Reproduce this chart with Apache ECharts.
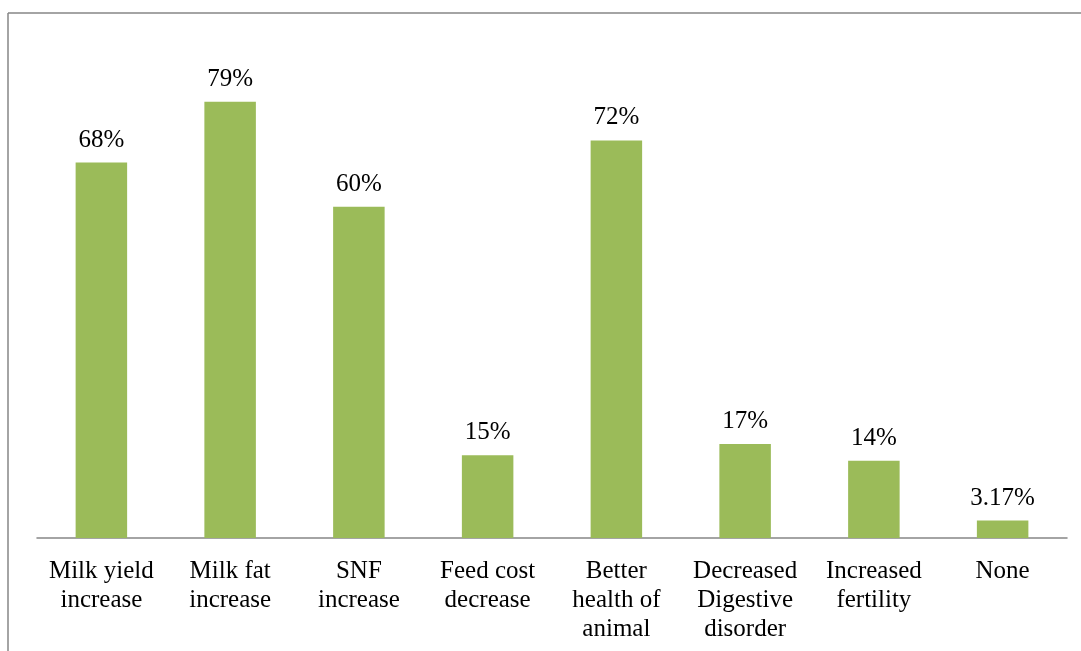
<!DOCTYPE html>
<html>
<head>
<meta charset="utf-8">
<script src="https://cdn.jsdelivr.net/npm/echarts@6/dist/echarts.min.js"></script>
<style>
  html, body { margin: 0; padding: 0; background: #fff; }
  #chart { width: 1081px; height: 651px; }
</style>
</head>
<body>
<div id="chart"></div>
<script>
// Reported benefits of feeding, share of respondents (%)
const categories = [
  'Milk yield\nincrease',
  'Milk fat\nincrease',
  'SNF\nincrease',
  'Feed cost\ndecrease',
  'Better\nhealth of\nanimal',
  'Decreased\nDigestive\ndisorder',
  'Increased\nfertility',
  'None'
];
const values = [68, 79, 60, 15, 72, 17, 14, 3.17];
const valueLabels = ['68%', '79%', '60%', '15%', '72%', '17%', '14%', '3.17%'];

const chart = echarts.init(document.getElementById('chart'));
const serif = '"Liberation Serif", "Times New Roman", serif';

chart.setOption({
  animation: false,
  backgroundColor: '#ffffff',
  grid: { left: 37, right: 14, top: 41, bottom: 113 },
  xAxis: {
    type: 'category',
    data: categories,
    axisLine: { lineStyle: { color: '#868686', width: 1.5 } },
    axisTick: { show: false },
    axisLabel: {
      interval: 0,
      margin: 19,
      color: '#000',
      fontFamily: serif,
      fontSize: 25,
      lineHeight: 29
    }
  },
  yAxis: {
    type: 'value',
    min: 0,
    max: 90,
    show: false,
    splitLine: { show: false }
  },
  series: [{
    type: 'bar',
    data: values,
    barWidth: '40%',
    itemStyle: { color: '#9BBB59' },
    label: {
      show: true,
      position: 'top',
      distance: 10,
      color: '#000',
      fontFamily: serif,
      fontSize: 25,
      formatter: p => valueLabels[p.dataIndex]
    }
  }],
  graphic: [
    { type: 'line', shape: { x1: 8, y1: 13, x2: 8, y2: 651 }, style: { stroke: '#868686', lineWidth: 1.5 } },
    { type: 'line', shape: { x1: 8, y1: 13, x2: 1081, y2: 13 }, style: { stroke: '#868686', lineWidth: 1.5 } }
  ]
});
</script>
</body>
</html>
